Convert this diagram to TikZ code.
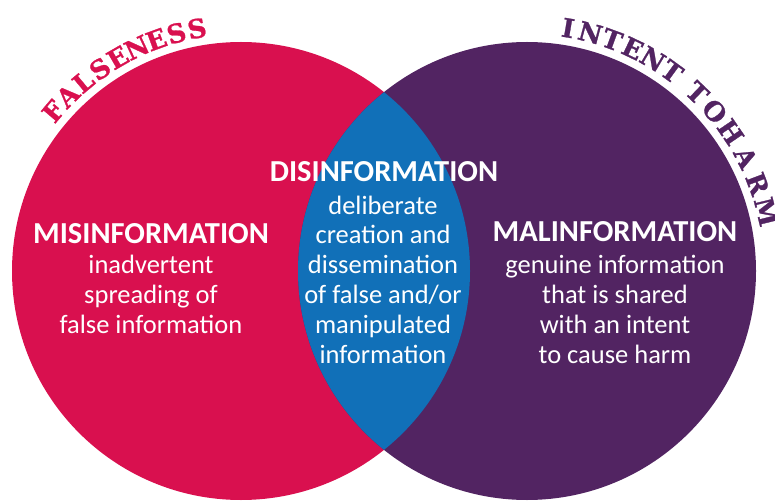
\documentclass[tikz,border=0pt]{standalone}
\usepackage{fontspec}
\setmainfont{Carlito}
\newfontfamily\slabfont{DejaVu Serif Bold}[FakeBold=1]
\definecolor{falsered}{HTML}{D9104F}
\definecolor{harmpurple}{HTML}{522462}
\definecolor{disblue}{HTML}{1170B8}
\tikzset{
  heading/.style={text=white, inner sep=0pt, anchor=base, font=\bfseries\fontsize{30.5}{30}\selectfont},
  bodytext/.style={text=white, inner sep=0pt, anchor=base, align=center, font=\fontsize{26.5}{29.8}\selectfont},
  arcletter/.style={inner sep=0pt, anchor=base, font=\slabfont\fontsize{26}{26}\selectfont},
}
\begin{document}
\begin{tikzpicture}[x=1pt,y=1pt]
\useasboundingbox (0,0) rectangle (775,501);
\coordinate (cl) at (241,230);
\coordinate (cr) at (527,230);
\fill[falsered] (cl) circle[radius=229];
\fill[harmpurple] (cr) circle[radius=229];
\begin{scope}
  \clip (cl) circle[radius=229];
  \fill[disblue] (cr) circle[radius=229];
\end{scope}
% curved labels
\foreach \ch/\ang [count=\i] in {F/139.6, A/134.7, L/129.8, S/124.9, E/120.0, N/115.0, E/110.1, S/105.2, S/100.3}
  \path (cl) ++(\ang:237) node[arcletter, text=falsered, rotate=\ang-90] (fl\i) {\ch};
\foreach \ch/\ang [count=\i] in {I/80.4, N/75.1, T/69.8, E/64.6, N/59.3, T/54.0, T/46.3, O/40.4, H/34.3, A/27.4, R/20.7, M/13.9}
  \path (cr) ++(\ang:237) node[arcletter, text=harmpurple, rotate=\ang-90] (hl\i) {\ch};
% texts
\node[heading] (mish) at (151,258) {MISINFORMATION};
\node[bodytext] (misb) at (151,168) {inadvertent\\spreading of\\false information};
\node[heading] (dish) at (384,319) {DISINFORMATION};
\node[bodytext] (disb) at (383,138) {deliberate\\creation and\\dissemination\\of false and/or\\manipulated\\information};
\node[heading] (malh) at (615,259) {MALINFORMATION};
\node[bodytext] (malb) at (615,138) {genuine information\\that is shared\\with an intent\\to cause harm};
\end{tikzpicture}
\end{document}
